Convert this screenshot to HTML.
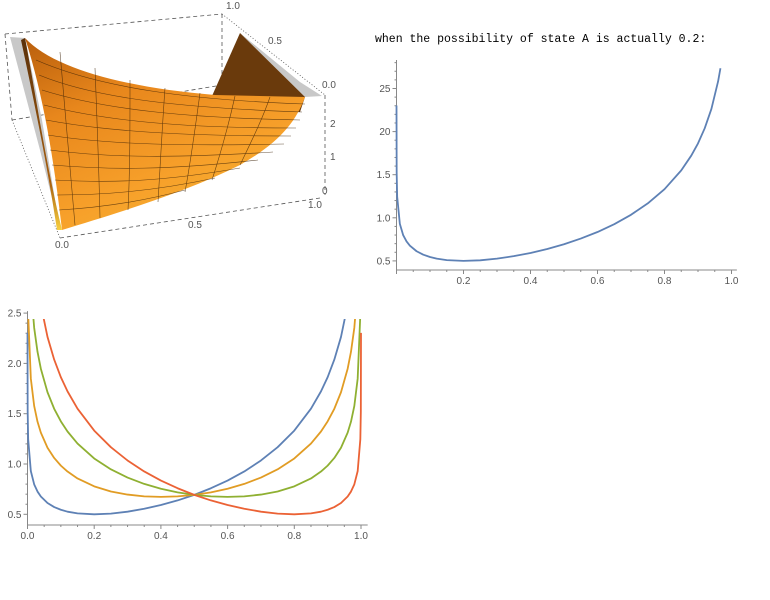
<!DOCTYPE html>
<html><head><meta charset="utf-8"><style>
body{margin:0;background:#fff;width:770px;height:600px;overflow:hidden}
svg{display:block}
text{font-family:"Liberation Sans",sans-serif;font-size:10px;fill:#555}
.mono{font-family:"Liberation Mono",monospace;font-size:11.5px;fill:#000}
</style></head><body>
<svg width="770" height="600" viewBox="0 0 770 600">
<defs>
<linearGradient id="surf" x1="0" y1="0" x2="0.6" y2="1">
<stop offset="0" stop-color="#b85e0c"/><stop offset="0.35" stop-color="#e8871c"/><stop offset="0.75" stop-color="#f7a02a"/><stop offset="1" stop-color="#f5b030"/>
</linearGradient>
<linearGradient id="side" x1="0" y1="0" x2="0" y2="1">
<stop offset="0" stop-color="#5a300a"/><stop offset="0.75" stop-color="#a8600f"/><stop offset="1" stop-color="#f8d040"/>
</linearGradient>
<clipPath id="clipB"><rect x="26" y="319" width="345" height="210"/></clipPath>
</defs>

<g>
<g stroke="#555" stroke-width="0.8" fill="none" stroke-dasharray="4,3">
<path d="M5,34 L222,14"/>
<path d="M222,14 L222,85"/>
<path d="M12,120 L222,85"/>
<path d="M5,34 L12,120"/>
<path d="M325,95 L325,195"/>
<path d="M60,238 L320,198"/>
<path d="M12,120 L60,238" stroke-dasharray="1,2"/>
<path d="M222,14 L325,95" stroke-dasharray="1,2"/>
</g>
<path d="M240,33 L305,97 L322,96 L300,82 Z" fill="#c8c8c8"/>
<path d="M10,37 L25,38 L42,120 L60,230 L40,150 Z" fill="#c8c8c8"/>
<path d="M212,96 L240,33 L305,97 L300,112 Z" fill="#6a3a0c"/>
<path d="M25,38 C55,70 130,88 215,95 L305,97 C295,125 275,145 240,165 C180,195 110,215 62,230 C55,170 45,100 25,38 Z" fill="url(#surf)"/>
<path d="M25,38 C35,90 45,160 62,230 L57,230 C48,170 36,110 21,40 Z" fill="url(#side)"/>
<g stroke="#3a2005" stroke-width="0.6" fill="none" opacity="0.75">
<path d="M36,60 C100,88 190,100 305,104"/><path d="M39,75 C100,100 190,108 302,112"/>
<path d="M42,90 C105,110 190,118 300,120"/><path d="M44,105 C110,122 190,128 296,128"/>
<path d="M46,120 C110,132 190,136 291,136"/><path d="M48,135 C110,145 190,146 284,144"/>
<path d="M50,150 C110,158 180,158 273,152"/><path d="M52,165 C110,170 170,170 258,160"/>
<path d="M55,180 C110,183 160,182 240,168"/><path d="M57,195 C100,195 150,192 215,178"/>
<path d="M59,210 C95,208 140,202 185,190"/>
<path d="M60,52 C65,110 70,170 75,225"/><path d="M95,68 C97,120 99,170 100,218"/>
<path d="M130,80 C130,130 130,170 128,210"/><path d="M165,88 C162,130 160,170 158,202"/>
<path d="M200,93 C195,130 190,165 185,192"/><path d="M235,96 C228,128 220,155 212,180"/>
<path d="M270,97 C262,120 252,140 240,165"/>
</g>
<text x="226" y="9">1.0</text>
<text x="268" y="44">0.5</text>
<text x="322" y="88">0.0</text>
<text x="330" y="127">2</text>
<text x="330" y="160">1</text>
<text x="322" y="194">0</text>
<text x="308" y="208">1.0</text>
<text x="188" y="228">0.5</text>
<text x="55" y="248">0.0</text>
</g>

<text class="mono" x="375" y="42">when the possibility of state A is actually 0.2:</text>
<g id="topChart"></g>
<g id="botChart"></g>
</svg>
<script>
const topQ=[0.00001,0.0005,0.002,0.01,0.02,0.03,0.04,0.06,0.08,0.1,0.12,0.15,0.2,0.25,0.3,0.35,0.4,0.45,0.5,0.55,0.6,0.65,0.7,0.75,0.8,0.85,0.88,0.9,0.92,0.94,0.96,0.967];
const topVals=[2.303,1.520,1.245,0.929,0.798,0.726,0.677,0.612,0.572,0.545,0.526,0.509,0.500,0.507,0.526,0.555,0.592,0.638,0.693,0.759,0.835,0.926,1.035,1.167,1.332,1.550,1.722,1.863,2.038,2.263,2.583,2.735];
const topXTicks=[0.2,0.4,0.6,0.8,1.0];
const topXLabels=["0.2","0.4","0.6","0.8","1.0"];
const topYTicks=[0.5,1.0,1.5,2.0,2.5];
const topYLabels=["0.5","1.0","1.5","20","25"];

const botQ=[0.00001,0.0005,0.002,0.01,0.02,0.03,0.04,0.06,0.08,0.1,0.12,0.15,0.2,0.25,0.3,0.35,0.4,0.45,0.5,0.55,0.6,0.65,0.7,0.75,0.8,0.85,0.88,0.9,0.92,0.94,0.96,0.97,0.98,0.99,0.998,0.9995,0.99999];
const blueVals=[2.303,1.520,1.245,0.929,0.798,0.726,0.677,0.612,0.572,0.545,0.526,0.509,0.500,0.507,0.526,0.555,0.592,0.638,0.693,0.759,0.835,0.926,1.035,1.167,1.332,1.550,1.722,1.863,2.038,2.263,2.583,2.811,3.134,3.686,4.972,6.081,9.21];
const orangeVals=[4.605,3.040,2.487,1.848,1.577,1.421,1.312,1.162,1.060,0.984,0.925,0.856,0.778,0.727,0.696,0.678,0.673,0.678,0.693,0.718,0.754,0.802,0.865,0.947,1.055,1.203,1.323,1.424,1.549,1.713,1.947,2.116,2.355,2.767,3.729,4.561,6.908];
const greenVals=[6.908,4.561,3.729,2.767,2.355,2.116,1.947,1.713,1.549,1.424,1.323,1.203,1.055,0.947,0.865,0.802,0.754,0.718,0.693,0.678,0.673,0.678,0.696,0.727,0.778,0.856,0.925,0.984,1.060,1.162,1.312,1.421,1.577,1.848,2.487,3.040,4.605];
const redVals=[9.21,6.081,4.972,3.686,3.134,2.811,2.583,2.263,2.038,1.863,1.722,1.550,1.332,1.167,1.035,0.926,0.835,0.759,0.693,0.638,0.592,0.555,0.526,0.507,0.500,0.509,0.526,0.545,0.572,0.612,0.677,0.726,0.798,0.929,1.245,1.520,2.303];
const botXTicks=[0,0.2,0.4,0.6,0.8,1.0];
const botXLabels=["0.0","0.2","0.4","0.6","0.8","1.0"];
const botYTicks=[0.5,1.0,1.5,2.0,2.5];
const botYLabels=["0.5","1.0","1.5","2.0","2.5"];

const NS="http://www.w3.org/2000/svg";
function mk(tag,attrs,parent){const e=document.createElementNS(NS,tag);for(const k in attrs)e.setAttribute(k,attrs[k]);parent.appendChild(e);return e;}

function drawAxes(g,sx,sy,x0,x1,y0,y1,xt,xl,yt,yl,pre){
  const ax=mk('line',{x1:sx(x0),y1:sy(y0),x2:sx(x1),y2:sy(y0),stroke:'#888','stroke-width':1},g);
  
  
  const ay=mk('line',{x1:sx(x0),y1:sy(y0),x2:sx(x0),y2:sy(y1),stroke:'#888','stroke-width':1},g);
  
  
  for(let v=0;v<=1.0001;v+=0.05){ if(v<x0-1e-6)continue;
    const major=Math.abs(v*5-Math.round(v*5))<1e-6;
    const t=mk('line',{x1:sx(v),x2:sx(v),y1:sy(y0),y2:sy(y0)+(major?4:2),stroke:'#888'},g);
    
    }
  for(let v=0.5;v<=y1+1e-6;v+=0.1){
    const major=Math.abs(v*2-Math.round(v*2))<1e-6;
    const t=mk('line',{x1:sx(x0),x2:sx(x0)-(major?4:2),y1:sy(v),y2:sy(v),stroke:'#888'},g);
    
    }
  xt.forEach((v,i)=>{const t=mk('text',{x:sx(v),y:sy(y0)+14,'text-anchor':'middle'},g);t.textContent=xl[i];
    
    });
  yt.forEach((v,i)=>{const t=mk('text',{x:sx(x0)-6,y:sy(v)+3.5,'text-anchor':'end'},g);t.textContent=yl[i];
    
    });
}
function line(g,xs,ys,sx,sy,color,name,clip){
  const d=xs.map((x,i)=>(i?'L':'M')+sx(x).toFixed(2)+','+sy(ys[i]).toFixed(2)).join(' ');
  const p=mk('path',{d:d,fill:'none',stroke:color,'stroke-width':1.8,'stroke-linejoin':'round'},g);
  if(clip)p.setAttribute('clip-path','url(#clipB)');
  
  
}
{const g=document.getElementById('topChart');
 const sx=v=>396.5+335*v, sy=v=>304-86.2*v;
 drawAxes(g,sx,sy,0,1.016,0.395,2.83,topXTicks,topXLabels,topYTicks,topYLabels,'top');
 line(g,topQ,topVals,sx,sy,'#5e81b5','cross-entropy-line',false);}
{const g=document.getElementById('botChart');
 const sx=v=>27.5+333.5*v, sy=v=>564.6-100.6*v;
 drawAxes(g,sx,sy,0,1.02,0.394,2.52,botXTicks,botXLabels,botYTicks,botYLabels,'bottom');
 line(g,botQ,blueVals,sx,sy,'#5e81b5','line-p-0.2',true);
 line(g,botQ,orangeVals,sx,sy,'#e19c24','line-p-0.4',true);
 line(g,botQ,greenVals,sx,sy,'#8fb032','line-p-0.6',true);
 line(g,botQ,redVals,sx,sy,'#eb6235','line-p-0.8',true);}
</script>
</body></html>
